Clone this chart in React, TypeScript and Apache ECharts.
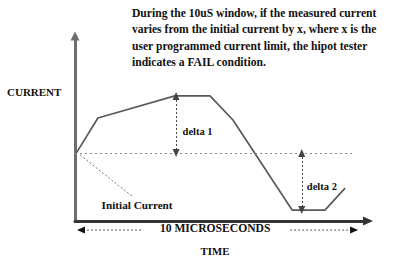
import React, { useEffect, useRef } from "react";
import * as echarts from "echarts";

// Time (microseconds) and current (arbitrary units) of the plotted waveform
const TIME_US = [0.05, 0.81, 3.53, 4.77, 5.58, 7.67, 8.83, 9.54];
const CURRENT = [36.8, 55.7, 67.6, 67.6, 54.6, 5.9, 5.9, 17.8];
const INITIAL_CURRENT = 36.8;
const BASELINE_END = 9.89;
const DELTA1 = { t: 3.57, from: 67.6, to: 36.8 };
const DELTA2 = { t: 8.01, from: 36.8, to: 5.9 };
const LEADER = { from: [0.18, 35.7], to: [2.05, 13.0] };
const WINDOW_US = [0.07, 10.0];
const X_MAX = 10.35;
const Y_MAX = 100;

const NOTE_LINES = [
  "During the 10uS window, if the measured current",
  "varies from the initial current by x, where x is the",
  "user programmed current limit, the hipot tester",
  "indicates a FAIL condition.",
];
const LABELS = {
  yName: "CURRENT",
  xName: "TIME",
  delta1: "delta 1",
  delta2: "delta 2",
  initial: "Initial Current",
  window: "10 MICROSECONDS",
};

const FONT = "'Liberation Serif', 'DejaVu Serif', serif";

export default function App() {
  const ref = useRef<HTMLDivElement>(null);
  useEffect(() => {
    if (!ref.current) return;
    const chart = echarts.init(ref.current, null, { renderer: "svg" });
    const data = TIME_US.map((t, i) => [t, CURRENT[i]]);
    chart.setOption({
      animation: false,
      grid: { left: 75, top: 36, right: 38, bottom: 35, containLabel: false },
      xAxis: {
        type: "value",
        min: 0,
        max: X_MAX,
        axisLine: {
          show: true,
          onZero: false,
          symbol: ["none", "triangle"],
          symbolSize: [9, 10],
          lineStyle: { color: "#333", width: 3 },
        },
        axisTick: { show: false },
        axisLabel: { show: false },
        splitLine: { show: false },
      },
      yAxis: {
        type: "value",
        min: 0,
        max: Y_MAX,
        axisLine: {
          show: true,
          onZero: false,
          symbol: ["none", "triangle"],
          symbolSize: [9, 9],
          lineStyle: { color: "#6e6e6e", width: 3 },
        },
        axisTick: { show: false },
        axisLabel: { show: false },
        splitLine: { show: false },
      },
      series: [
        {
          type: "line",
          data,
          symbol: "none",
          lineStyle: { color: "#5a5a5a", width: 1.7 },
          z: 3,
          markLine: {
            silent: true,
            symbol: ["none", "none"],
            label: { show: false },
            lineStyle: { color: "#888", width: 1.2, type: [2, 3] },
            data: [[{ coord: [0, INITIAL_CURRENT] }, { coord: [BASELINE_END, INITIAL_CURRENT] }]],
          },
        },
        {
          type: "line",
          data: [],
          markLine: {
            silent: true,
            symbol: ["triangle", "triangle"],
            symbolSize: [7, 8],
            label: { show: false },
            lineStyle: { color: "#444", width: 1, type: [2, 2] },
            data: [
              [{ coord: [DELTA1.t, DELTA1.from] }, { coord: [DELTA1.t, DELTA1.to] }],
              [{ coord: [DELTA2.t, DELTA2.from] }, { coord: [DELTA2.t, DELTA2.to] }],
            ],
          },
        },
        {
          type: "line",
          data: [],
          markLine: {
            silent: true,
            symbol: ["none", "none"],
            label: { show: false },
            lineStyle: { color: "#777", width: 1, type: [2, 2] },
            data: [[{ coord: LEADER.from }, { coord: LEADER.to }]],
          },
        },
      ],
    });

    const px = (t: number, c: number) =>
      chart.convertToPixel({ gridIndex: 0 }, [t, c]) as number[];

    const spanY = -4.9;
    const [wx0, wy] = px(WINDOW_US[0], spanY);
    const [wx1] = px(WINDOW_US[1], spanY);
    const [lx] = px(2.4, spanY);
    const [rx] = px(7.6, spanY);
    const [d1x, d1y] = px(DELTA1.t + 0.23, 48.6);
    const [d2x, d2y] = px(DELTA2.t + 0.18, 18.5);
    const [icx, icy] = px(0.94, 8.6);
    const [wcx, wcy] = px(4.95, -4.3);
    const arrowStyle = { stroke: "#555", lineWidth: 1, lineDash: [2, 2] };
    const labelStyle = (text: string, size: number, extra: any = {}) => ({
      text,
      font: `bold ${size}px ${FONT}`,
      fill: "#111",
      ...extra,
    });

    chart.setOption({
      graphic: [
        {
          type: "text",
          left: 132,
          top: 5,
          style: labelStyle(NOTE_LINES.join("\n"), 11.6, { lineHeight: 16.4 }),
        },
        { type: "text", left: 7, top: 86, style: labelStyle(LABELS.yName, 11) },
        {
          type: "text",
          x: 215,
          y: 251,
          style: labelStyle(LABELS.xName, 10.8, { align: "center", verticalAlign: "middle" }),
        },
        { type: "text", x: d1x, y: d1y, style: labelStyle(LABELS.delta1, 10.5, { verticalAlign: "middle" }) },
        { type: "text", x: d2x, y: d2y, style: labelStyle(LABELS.delta2, 10.5, { verticalAlign: "middle" }) },
        { type: "text", x: icx, y: icy, style: labelStyle(LABELS.initial, 11.2, { verticalAlign: "middle" }) },
        {
          type: "text",
          x: wcx,
          y: wcy,
          style: labelStyle(LABELS.window, 11.6, { align: "center", verticalAlign: "middle" }),
        },
        { type: "line", shape: { x1: wx0 + 6, y1: wy, x2: lx, y2: wy }, style: arrowStyle },
        { type: "line", shape: { x1: rx, y1: wy, x2: wx1 - 6, y2: wy }, style: arrowStyle },
        {
          type: "polygon",
          shape: { points: [[wx0, wy], [wx0 + 8, wy - 3.5], [wx0 + 8, wy + 3.5]] },
          style: { fill: "#111" },
        },
        {
          type: "polygon",
          shape: { points: [[wx1, wy], [wx1 - 8, wy - 3.5], [wx1 - 8, wy + 3.5]] },
          style: { fill: "#111" },
        },
      ],
    });
    return () => chart.dispose();
  }, []);
  return (
    <div
      ref={ref}
      style={{ position: "fixed", left: 0, top: 0, width: 406, height: 256, background: "#fff" }}
    />
  );
}
